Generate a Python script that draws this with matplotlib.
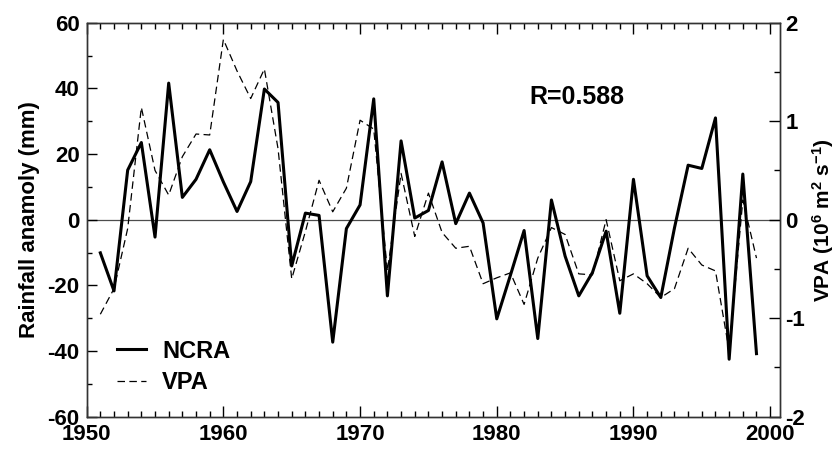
import matplotlib
matplotlib.use("Agg")
import matplotlib.pyplot as plt
from matplotlib.ticker import MultipleLocator

plt.rcParams['font.family'] = ['Liberation Sans', 'DejaVu Sans']
plt.rcParams['font.weight'] = 'bold'
plt.rcParams['axes.labelweight'] = 'bold'
plt.rcParams['axes.unicode_minus'] = False
plt.rcParams['mathtext.default'] = 'regular'

years = list(range(1951, 2000))

# rainfall anomaly (mm), left axis
ncra = [-10.1, -21.7, 15.1, 23.5, -5.3, 41.6, 6.8, 12.3, 21.3, 11.5,
        2.5, 11.6, 39.8, 35.7, -14.1, 2.0, 1.3, -37.3, -2.7, 4.5,
        36.8, -23.2, 24.0, 0.5, 2.8, 17.6, -1.2, 8.1, -1.0, -30.2,
        -16.9, -3.3, -36.2, 6.0, -11.1, -23.2, -16.1, -3.5, -28.5, 12.3,
        -17.1, -23.7, -2.5, 16.6, 15.6, 31.0, -42.5, 13.9, -40.8]

# VPA (10^6 m2 s-1), right axis
vpa = [-0.96, -0.70, -0.09, 1.14, 0.50, 0.25, 0.64, 0.87, 0.86, 1.83,
       1.51, 1.23, 1.53, 0.72, -0.60, -0.12, 0.40, 0.08, 0.32, 1.01,
       0.92, -0.52, 0.47, -0.17, 0.27, -0.13, -0.29, -0.27, -0.65, -0.59,
       -0.54, -0.86, -0.39, -0.08, -0.15, -0.55, -0.56, 0.0, -0.62, -0.55,
       -0.65, -0.79, -0.70, -0.29, -0.46, -0.52, -1.33, 0.20, -0.39]

fig = plt.figure(figsize=(8.35, 4.54), dpi=100)
ax = fig.add_axes([0.1038, 0.0822, 0.8300, 0.8678])
ax2 = ax.twinx()

ax.axhline(0, color='0.3', lw=0.9, zorder=1)
l1, = ax.plot(years, ncra, color='black', lw=2.2, label='NCRA', zorder=3)
l2, = ax2.plot(years, vpa, color='black', lw=0.9, ls=(0, (6, 3.5)), label='VPA', zorder=2)

ax.set_xlim(1950, 2000.7)
ax.set_ylim(-60, 60)
ax2.set_ylim(-2, 2)

ax.xaxis.set_major_locator(MultipleLocator(10))
ax.xaxis.set_minor_locator(MultipleLocator(1))
ax.yaxis.set_major_locator(MultipleLocator(20))
ax.yaxis.set_minor_locator(MultipleLocator(10))
ax2.yaxis.set_major_locator(MultipleLocator(1))
ax2.yaxis.set_minor_locator(MultipleLocator(0.5))

ax.tick_params(axis='x', which='both', direction='in', top=True, bottom=True,
               labelsize=16, pad=5, width=1)
ax.tick_params(axis='x', which='major', length=8)
ax.tick_params(axis='x', which='minor', length=4)
ax.tick_params(axis='y', which='both', direction='in', right=False,
               labelsize=16, pad=5, width=1)
ax.tick_params(axis='y', which='major', length=7)
ax.tick_params(axis='y', which='minor', length=3.5)
ax2.tick_params(axis='y', which='both', direction='in', labelsize=16, pad=4, width=1)
ax2.tick_params(axis='y', which='major', length=8)
ax2.tick_params(axis='y', which='minor', length=4)

for a in (ax, ax2):
    for s in a.spines.values():
        s.set_linewidth(1)
        s.set_color('0.2')

ax.set_ylabel('Rainfall anamoly (mm)', fontsize=16)
ax.yaxis.set_label_coords(-0.068, 0.5)
ax2.set_ylabel('VPA (10$^6$ m$^2$ s$^{-1}$)', fontsize=15, rotation=90)
ax2.yaxis.set_label_coords(1.044, 0.5)

ax.text(1982.4, 37.5, 'R=0.588', fontsize=18, va='center', ha='left')

leg = ax.legend(handles=[l1, l2], loc='center left', bbox_to_anchor=(0.044, 0.127),
                frameon=False, fontsize=17, borderpad=0, borderaxespad=0,
                handlelength=1.2, handletextpad=0.7, labelspacing=0.35)

fig.savefig('out.png', dpi=100)
